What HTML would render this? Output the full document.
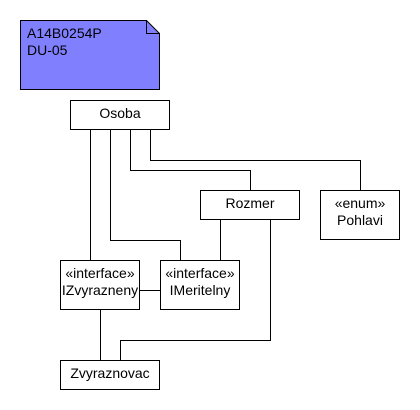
<!DOCTYPE html>
<html><head><meta charset="utf-8"><style>html,body{margin:0;padding:0;background:#fff}svg{display:block}</style></head>
<body>
<svg width="420" height="410" xmlns="http://www.w3.org/2000/svg" font-family="Liberation Sans, Arial, sans-serif" font-size="14" fill="#000">
<g stroke="#000" stroke-width="1" fill="none">
<path d="M20.5 20.5H146.5L159.5 33.5V89.5H20.5Z" fill="#8080ff"/>
<path d="M146.5 20.5V33.5H159.5"/>
<rect x="70.5" y="100.5" width="99" height="29" fill="#fff"/>
<rect x="200.5" y="190.5" width="99" height="29" fill="#fff"/>
<rect x="320.5" y="190.5" width="79" height="49" fill="#fff"/>
<rect x="60.5" y="260.5" width="79" height="49" fill="#fff"/>
<rect x="160.5" y="260.5" width="79" height="49" fill="#fff"/>
<rect x="60.5" y="360.5" width="99" height="29" fill="#fff"/>
<path d="M90.5 130V260"/>
<path d="M110.5 130V240.5H180.5V260"/>
<path d="M130.5 130V170.5H250.5V190"/>
<path d="M150.5 130V160.5H360.5V190"/>
<path d="M140 290.5H160"/>
<path d="M220.5 220V260"/>
<path d="M270.5 220V340.5H120.5V360"/>
<path d="M100.5 310V360"/>
</g>
<text x="27" y="38">A14B0254P</text>
<text x="27" y="55">DU-05</text>
<text x="120" y="118" text-anchor="middle">Osoba</text>
<text x="250" y="208" text-anchor="middle">Rozmer</text>
<text x="360" y="208" text-anchor="middle">«enum»</text>
<text x="360" y="225" text-anchor="middle">Pohlavi</text>
<text x="100" y="278" text-anchor="middle">«interface»</text>
<text x="100" y="295" text-anchor="middle">IZvyrazneny</text>
<text x="200" y="278" text-anchor="middle">«interface»</text>
<text x="200" y="295" text-anchor="middle">IMeritelny</text>
<text x="110" y="378" text-anchor="middle">Zvyraznovac</text>
</svg>
</body></html>
